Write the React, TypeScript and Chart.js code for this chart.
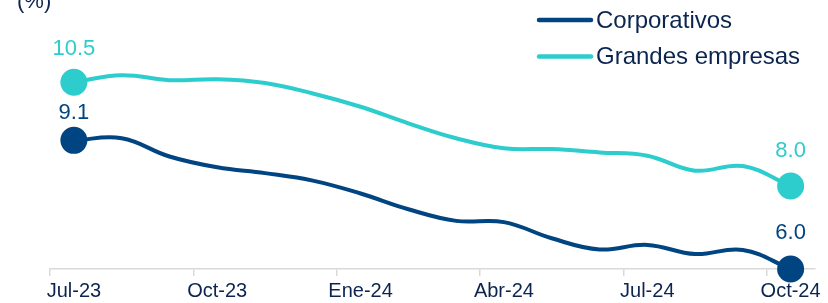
import React, { useEffect, useRef } from "react";
import { Chart, registerables } from "chart.js";

Chart.register(...registerables);

const months = [
  "Jul-23", "Ago-23", "Sep-23", "Oct-23", "Nov-23", "Dic-23",
  "Ene-24", "Feb-24", "Mar-24", "Abr-24", "May-24", "Jun-24",
  "Jul-24", "Ago-24", "Sep-24", "Oct-24",
];
const corporativos = [9.1, 9.15, 8.71, 8.45, 8.31, 8.13, 7.82, 7.44, 7.16, 7.13, 6.74, 6.47, 6.58, 6.36, 6.46, 6.0];
const grandesEmpresas = [10.5, 10.67, 10.55, 10.57, 10.48, 10.23, 9.91, 9.51, 9.15, 8.91, 8.89, 8.81, 8.73, 8.37, 8.48, 8.0];
const seriesNames = ["Corporativos", "Grandes empresas"];
const unitLabel = "(%)";

const NAVY = "#004481";
const TEAL = "#2DCCCD";
const TEXT = "#0B2550";
const FONT = "'Liberation Sans', Arial, sans-serif";

const endPoints = (n: number) => Array.from({ length: n }, (_, i) => (i === 0 || i === n - 1 ? 13.5 : 0));

const overlayPlugin = {
  id: "overlay",
  afterDatasetsDraw(chart: any) {
    const ctx = chart.ctx;
    ctx.save();
    // end labels
    const firstOff = [21, 27];
    const lastOff = [30, 29];
    chart.data.datasets.forEach((ds: any, di: number) => {
      const meta = chart.getDatasetMeta(di);
      const n = ds.data.length;
      [0, n - 1].forEach((idx) => {
        const pt = meta.data[idx];
        ctx.font = `22px ${FONT}`;
        ctx.fillStyle = ds.borderColor;
        ctx.textAlign = "center";
        ctx.textBaseline = "alphabetic";
        const off = idx === 0 ? firstOff[di] : lastOff[di];
        ctx.fillText(Number(ds.data[idx]).toFixed(1), pt.x, pt.y - off);
      });
    });
    // legend
    const legendY = [20, 56.5];
    chart.data.datasets.forEach((ds: any, di: number) => {
      const y = legendY[di];
      ctx.strokeStyle = ds.borderColor;
      ctx.lineWidth = 4.5;
      ctx.lineCap = "round";
      ctx.beginPath();
      ctx.moveTo(539, y);
      ctx.lineTo(591, y);
      ctx.stroke();
      ctx.font = `24px ${FONT}`;
      ctx.fillStyle = TEXT;
      ctx.textAlign = "left";
      ctx.textBaseline = "alphabetic";
      ctx.fillText(ds.label, 596, y + 7.5);
    });
    // unit
    ctx.font = `22px ${FONT}`;
    ctx.fillStyle = TEXT;
    ctx.textAlign = "left";
    ctx.fillText(unitLabel, 17, 7.5);
    ctx.restore();
  },
};

export default function App() {
  const ref = useRef<HTMLCanvasElement | null>(null);
  useEffect(() => {
    if (!ref.current) return;
    const chart = new Chart(ref.current, {
      type: "line",
      data: {
        labels: months,
        datasets: [
          {
            label: seriesNames[0],
            data: corporativos,
            borderColor: NAVY,
            backgroundColor: NAVY,
            pointBackgroundColor: NAVY,
            borderWidth: 4,
            tension: 0.4,
            pointRadius: endPoints(corporativos.length),
            pointBorderWidth: 0,
            clip: false as any,
          },
          {
            label: seriesNames[1],
            data: grandesEmpresas,
            borderColor: TEAL,
            backgroundColor: TEAL,
            pointBackgroundColor: TEAL,
            borderWidth: 4,
            tension: 0.4,
            pointRadius: endPoints(grandesEmpresas.length),
            pointBorderWidth: 0,
            clip: false as any,
          },
        ],
      },
      options: {
        animation: false,
        responsive: false,
        devicePixelRatio: 1,
        layout: { padding: { left: 50, right: 10, top: 61.5, bottom: 0 } },
        plugins: { legend: { display: false }, tooltip: { enabled: false } },
        scales: {
          x: {
            type: "category",
            offset: true,
            afterFit: (s: any) => {
              s.height = 34;
            },
            grid: {
              offset: true,
              drawOnChartArea: false,
              tickLength: 7,
              lineWidth: 1.5,
              color: (c: any) => (c.index % 3 === 0 && c.index < months.length ? "#D9D9D9" : "rgba(0,0,0,0)"),
            },
            border: { display: true, color: "#D9D9D9", width: 1.5 },
            ticks: {
              autoSkip: false,
              maxRotation: 0,
              padding: 3,
              color: TEXT,
              font: { family: FONT, size: 20 },
              callback: (_v: any, i: number) => (i % 3 === 0 ? months[i] : ""),
            },
          },
          y: { display: false, min: 6, max: 11 },
        },
      },
      plugins: [overlayPlugin],
    });
    return () => chart.destroy();
  }, []);
  return (
    <div style={{ position: "fixed", left: 0, top: 0, width: 828, height: 303, background: "#fff" }}>
      <canvas ref={ref} width={828} height={303} style={{ display: "block" }} />
    </div>
  );
}
